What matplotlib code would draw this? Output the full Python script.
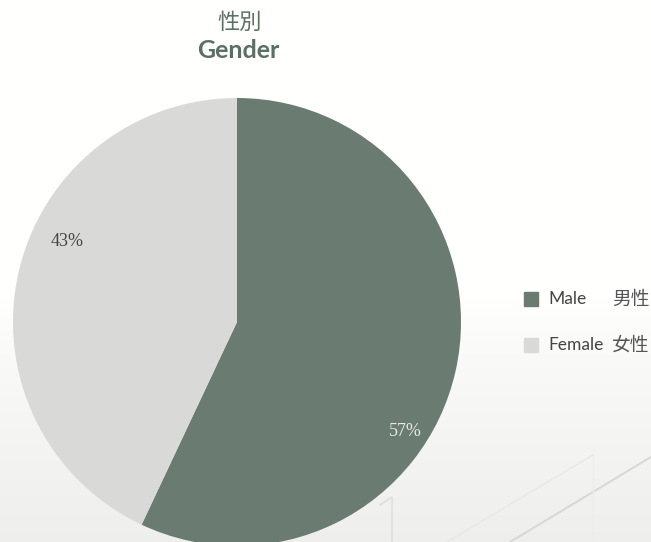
import matplotlib
matplotlib.use("Agg")
import matplotlib.pyplot as plt
import numpy as np
from matplotlib.patches import Rectangle

categories_en = ["Male", "Female"]
categories_zh = ["男性", "女性"]
values = [57, 43]
colors = ["#6a7b71", "#d9dad8"]
label_colors = ["#e6e9e6", "#444444"]

W, H = 651, 542
fig = plt.figure(figsize=(W/100, H/100), dpi=100)

# background
bg = fig.add_axes([0, 0, 1, 1])
bg.set_xlim(0, W); bg.set_ylim(H, 0); bg.axis("off")
yy = np.arange(H)
g = np.clip((yy - 300) / (H - 300), 0, 1) ** 0.8
vals = 1.0 - 0.065 * g
img = np.stack([vals, vals, vals * 0.997], axis=-1)
img = np.repeat(img[:, None, :], 2, axis=1)
bg.imshow(img, extent=[0, W, H, 0], aspect="auto", zorder=0, interpolation="bilinear")
bg.plot([510, 651], [542, 457], color="#d6d7d6", lw=1.4, zorder=1)
bg.plot([447, 593], [542, 455], color="#e8e8e7", lw=1.0, zorder=1)
bg.plot([593, 593], [455, 542], color="#ededec", lw=1.0, zorder=1)
bg.plot([380, 392, 392], [505, 497, 542], color="#dcdcdb", lw=1.0, zorder=1)

# pie
cx, cy, r = 237, 322, 224
ax = fig.add_axes([(cx - r)/W, (H - cy - r)/H, 2*r/W, 2*r/H])
wedges, _ = ax.pie(values, colors=colors, startangle=90, counterclock=False,
                   radius=1, wedgeprops=dict(linewidth=0))
ax.set_xlim(-1, 1); ax.set_ylim(-1, 1); ax.set_aspect("equal"); ax.axis("off")
label_pos = [(0.75, -0.49), (-0.76, 0.36)]
for v, (lx, ly), c in zip(values, label_pos, label_colors):
    ax.text(lx, ly, f"{v}%", ha="center", va="center", fontsize=13,
            color=c, family=["Liberation Serif", "DejaVu Serif"])

# title
tc = "#5b6f63"
fig.text(240/W, 1 - 22/H, "性別", ha="center", va="center", fontsize=16,
         color=tc, family=["Noto Sans CJK TC", "DejaVu Sans"])
fig.text(238/W, 1 - 50/H, "Gender", ha="center", va="center", fontsize=18,
         color=tc, fontweight="bold", family=["Lato", "DejaVu Sans"])

# legend
leg_y = [299, 345]
for en, zh, c, y in zip(categories_en, categories_zh, colors, leg_y):
    bg.add_patch(Rectangle((524, y - 7), 14, 14, color=c, zorder=3))
    bg.text(548, y, en, ha="left", va="center", fontsize=12.5, color="#444444",
            family=["Lato", "DejaVu Sans"], zorder=3)
    bg.text(612, y, zh, ha="left", va="center", fontsize=13.5, color="#555555",
            family=["Noto Sans CJK TC", "DejaVu Sans"], zorder=3)

fig.savefig("out.png", dpi=100)
